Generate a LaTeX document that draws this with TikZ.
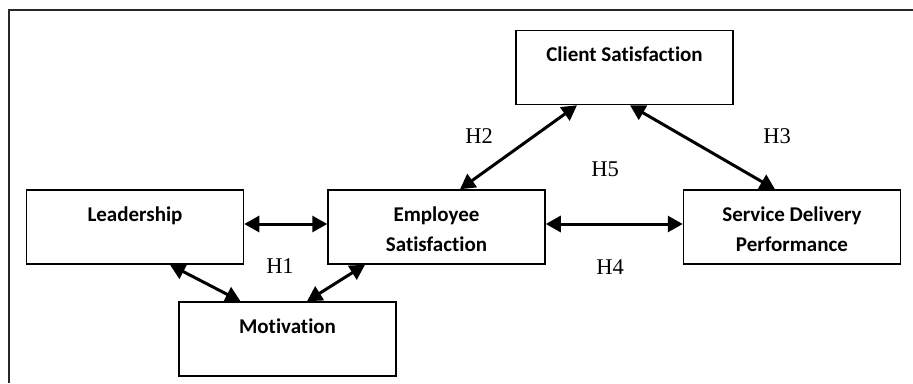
\documentclass[tikz,border=0pt]{standalone}
\usepackage{fontspec}
\setmainfont{Liberation Serif}
\newfontfamily\calibrifont[Ligatures=NoCommon]{Carlito}
\usetikzlibrary{arrows.meta,positioning}
\definecolor{framegray}{RGB}{40,40,40}

\begin{document}
\begin{tikzpicture}[x=1pt, y=-1pt,
    construct/.style={draw, line width=1.5pt, minimum width=217pt, minimum height=74pt, inner sep=0pt},
    construct label/.style={font=\calibrifont\bfseries\fontsize{21}{30}\selectfont, align=center, inner sep=0pt},
    hypo/.style={font=\fontsize{22.5}{26}\selectfont, anchor=base, inner sep=0pt},
    link/.style={{Triangle[length=15pt, width=16pt]}-{Triangle[length=15pt, width=16pt]}, line width=3pt}]
    \useasboundingbox (0,0) rectangle (913,383);

    % Frame
    \draw[framegray, line width=2.5pt] (9,383) -- (9,10) -- (913,10);

    % Constructs
    \node[construct] (lead) at (135,227) {};
    \node[construct] (emp) at (436.5,227) {};
    \node[construct] (mot) at (287.5,339) {};
    \node[construct] (client) at (624.5,67.5) {};
    \node[construct] (service) at (792,227) {};

    \node[construct label, below=17pt of lead.north] (leadtext) {Leadership};
    \node[construct label, below=17pt of emp.north] (emptext) {Employee\\Satisfaction};
    \node[construct label, below=17pt of mot.north] (mottext) {Motivation};
    \node[construct label, below=17pt of client.north] (clienttext) {Client Satisfaction};
    \node[construct label, below=17pt of service.north] (servicetext) {Service Delivery\\Performance};

    % Relations
    \draw[link] ([yshift=3pt]lead.east) -- ([yshift=3pt]emp.west);
    \draw[link] ([yshift=3pt]emp.east) -- ([yshift=3pt]service.west);
    \draw[link] ([xshift=35pt]lead.south) -- ([xshift=-47pt]mot.north);
    \draw[link] ([xshift=19.5pt]mot.north) -- ([xshift=-71.5pt]emp.south);
    \draw[link] ([xshift=23.5pt]emp.north) -- ([xshift=-47.5pt]client.south);
    \draw[link] ([xshift=5.5pt]client.south) -- ([xshift=-17pt]service.north);

    % Hypotheses
    \node[hypo] (h1) at (280,273) {H1};
    \node[hypo] (h2) at (479,143) {H2};
    \node[hypo] (h3) at (777,143) {H3};
    \node[hypo] (h4) at (610,274) {H4};
    \node[hypo] (h5) at (605,176) {H5};
\end{tikzpicture}
\end{document}
